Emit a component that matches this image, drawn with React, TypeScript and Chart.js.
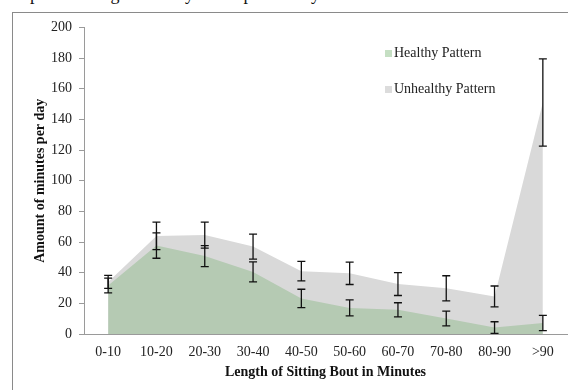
import React, { useEffect, useRef } from "react";
import { Chart, registerables } from "chart.js";

Chart.register(...registerables);

const categories = ["0-10", "10-20", "20-30", "30-40", "40-50", "50-60", "60-70", "70-80", "80-90", ">90"];
const unhealthyValues = [34, 64, 64.5, 57, 41, 39.6, 32.6, 29.8, 24.5, 151];
const unhealthyErrors = [4.3, 9, 8.5, 8.1, 6.4, 7.3, 7.5, 8.2, 6.8, 28.5];
const healthyValues = [31.6, 57.7, 50.8, 40.5, 23.2, 17, 15.8, 10.1, 4.2, 7.2];
const healthyErrors = [4.8, 8.3, 6.8, 6.5, 6, 5.2, 4.6, 4.8, 3.8, 5];
const yTicks = [0, 20, 40, 60, 80, 100, 120, 140, 160, 180, 200];
const legendLabels = ["Healthy Pattern", "Unhealthy Pattern"];

const FONT = "'Liberation Serif', 'Times New Roman', serif";

const errorBarPlugin = {
  id: "errorBars",
  afterDatasetsDraw(chart: any) {
    const ctx = chart.ctx;
    const x = chart.scales.x;
    const y = chart.scales.y;
    const sets = [
      { v: unhealthyValues, e: unhealthyErrors },
      { v: healthyValues, e: healthyErrors },
    ];
    ctx.save();
    ctx.strokeStyle = "#111";
    ctx.lineWidth = 1.3;
    sets.forEach((s) => {
      s.v.forEach((val, i) => {
        const px = x.getPixelForValue(i);
        const top = y.getPixelForValue(val + s.e[i]);
        const bot = y.getPixelForValue(Math.max(val - s.e[i], 0));
        ctx.beginPath();
        ctx.moveTo(px, top);
        ctx.lineTo(px, bot);
        ctx.moveTo(px - 4, top);
        ctx.lineTo(px + 4, top);
        ctx.moveTo(px - 4, bot);
        ctx.lineTo(px + 4, bot);
        ctx.stroke();
      });
    });
    ctx.restore();
  },
};

export default function App() {
  const canvasRef = useRef<HTMLCanvasElement | null>(null);

  useEffect(() => {
    document.body.style.overflow = "hidden";
    const chart = new Chart(canvasRef.current as HTMLCanvasElement, {
      type: "line",
      data: {
        labels: categories,
        datasets: [
          {
            label: legendLabels[0],
            data: healthyValues,
            backgroundColor: "#b5cab3",
            borderWidth: 0,
            pointRadius: 0,
            fill: "origin",
            tension: 0,
          },
          {
            label: legendLabels[1],
            data: unhealthyValues,
            backgroundColor: "#d9d9d9",
            borderWidth: 0,
            pointRadius: 0,
            fill: "origin",
            tension: 0,
          },
        ],
      },
      options: {
        animation: false,
        responsive: false,
        devicePixelRatio: 1,
        layout: { padding: { top: 15, right: 1, left: 0, bottom: 0 } },
        plugins: {
          legend: { display: false },
          tooltip: { enabled: false },
        },
        scales: {
          x: {
            type: "category",
            offset: true,
            afterFit: (s: any) => {
              s.height = 56;
            },
            grid: { display: true, drawOnChartArea: false, drawTicks: false },
            border: { display: true, color: "#9a9a9a", width: 1 },
            ticks: {
              color: "#222",
              padding: 10,
              maxRotation: 0,
              autoSkip: false,
              font: { family: FONT, size: 14 },
            },
            title: {
              display: true,
              text: "Length of Sitting Bout in Minutes",
              color: "#111",
              font: { family: FONT, size: 14, weight: "bold" },
              padding: { top: 0, bottom: 9 },
            },
          },
          y: {
            min: 0,
            max: 200,
            afterFit: (s: any) => {
              s.width = 72;
            },
            afterBuildTicks: (s: any) => {
              s.ticks = yTicks.map((v) => ({ value: v }));
            },
            grid: { drawOnChartArea: false, drawTicks: true, tickLength: 5, color: "#9a9a9a" },
            border: { display: true, color: "#9a9a9a", width: 1 },
            ticks: {
              color: "#222",
              padding: 7,
              font: { family: FONT, size: 14 },
            },
            title: {
              display: true,
              text: "Amount of minutes per day",
              color: "#111",
              font: { family: FONT, size: 14, weight: "bold" },
              padding: { top: 20, bottom: 0 },
            },
          },
        },
      },
      plugins: [errorBarPlugin],
    });
    return () => chart.destroy();
  }, []);

  return (
    <div
      style={{
        position: "fixed",
        left: 0,
        top: 0,
        width: 568,
        height: 390,
        overflow: "hidden",
        background: "#fff",
        fontFamily: FONT,
      }}
    >
      <div
        style={{
          position: "absolute",
          left: -1,
          top: -15,
          fontSize: 18,
          lineHeight: "18px",
          whiteSpace: "nowrap",
          color: "#111",
        }}
      >
        compared sitting bouts/day in the pilot study
      </div>
      <div
        style={{
          position: "absolute",
          left: 12,
          top: 12,
          width: 640,
          height: 460,
          borderTop: "1px solid #8a8a8a",
          borderLeft: "1px solid #8a8a8a",
        }}
      />
      <canvas
        ref={canvasRef}
        width={556}
        height={378}
        style={{ position: "absolute", left: 12, top: 12, width: 556, height: 378 }}
      />
      <div style={{ position: "absolute", left: 385, top: 50, width: 7, height: 7, background: "#c5dfc3" }} />
      <div
        style={{
          position: "absolute",
          left: 394,
          top: 44,
          fontSize: 14,
          lineHeight: "18px",
          color: "#222",
          whiteSpace: "nowrap",
        }}
      >
        {legendLabels[0]}
      </div>
      <div style={{ position: "absolute", left: 385, top: 86, width: 7, height: 7, background: "#dcdcdc" }} />
      <div
        style={{
          position: "absolute",
          left: 394,
          top: 80,
          fontSize: 14,
          lineHeight: "18px",
          color: "#222",
          whiteSpace: "nowrap",
        }}
      >
        {legendLabels[1]}
      </div>
    </div>
  );
}
